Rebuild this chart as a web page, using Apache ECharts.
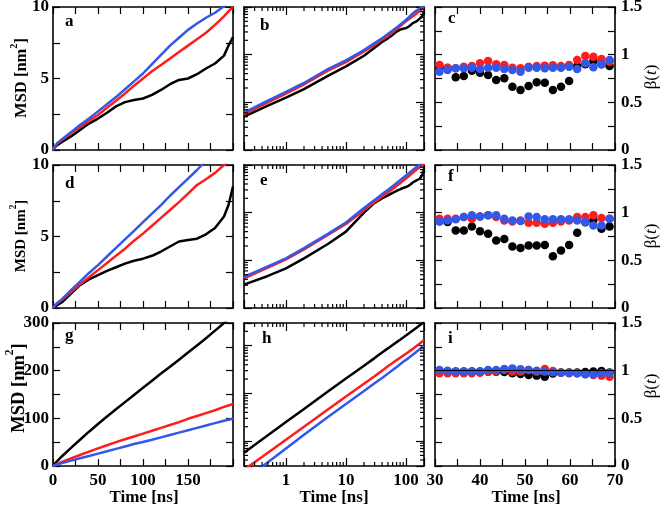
<!DOCTYPE html>
<html><head><meta charset="utf-8">
<script src="https://cdn.jsdelivr.net/npm/echarts@6/dist/echarts.min.js"></script>
<style>html,body{margin:0;padding:0;background:#fff}#c{width:661px;height:508px}</style>
</head><body><div id="c"></div>
<script>
// ---------- DATA ----------
const timeNs = [0.2, 0.5, 1, 2, 5, 10, 20, 30, 40, 50, 60, 70, 80, 90, 100, 110, 120, 130, 140, 150, 160, 170, 180, 190, 195, 200];
// row 1 (panels a, b)
const msdBlackA = [0.050, 0.085, 0.125, 0.19, 0.36, 0.57, 0.95, 1.4, 1.85, 2.2, 2.6, 3.05, 3.35, 3.5, 3.6, 3.85, 4.2, 4.6, 4.9, 5.0, 5.3, 5.7, 6.05, 6.6, 7.3, 7.9];
const msdRedA   = [0.056, 0.10, 0.152, 0.237, 0.46, 0.70, 1.17, 1.6, 2.05, 2.45, 2.95, 3.45, 3.95, 4.5, 5.0, 5.5, 5.95, 6.4, 6.85, 7.3, 7.75, 8.2, 8.75, 9.35, 9.7, 10.0];
const msdBlueA  = [0.061, 0.108, 0.165, 0.255, 0.50, 0.76, 1.25, 1.75, 2.2, 2.7, 3.2, 3.7, 4.25, 4.8, 5.35, 6.0, 6.65, 7.3, 7.85, 8.4, 8.85, 9.25, 9.6, 10.05, 10.35, 10.6];
// row 2 (panels d, e)
const msdBlackD = [0.031, 0.047, 0.068, 0.11, 0.22, 0.40, 1.0, 1.6, 2.0, 2.3, 2.6, 2.85, 3.1, 3.3, 3.45, 3.65, 3.95, 4.3, 4.65, 4.75, 4.85, 5.15, 5.6, 6.4, 7.2, 8.5];
const msdRedD   = [0.042, 0.07, 0.105, 0.17, 0.34, 0.58, 1.12, 1.65, 2.15, 2.65, 3.15, 3.65, 4.15, 4.7, 5.2, 5.75, 6.3, 6.85, 7.4, 8.0, 8.6, 9.0, 9.45, 10.0, 10.3, 10.6];
const msdBlueD  = [0.045, 0.075, 0.11, 0.18, 0.36, 0.62, 1.25, 1.85, 2.45, 3.0, 3.6, 4.2, 4.8, 5.4, 6.0, 6.6, 7.2, 7.85, 8.45, 9.05, 9.65, 10.3, 10.9, 11.5, 11.8, 12.1];
// row 3 (panels g, h)
const msdBlackG = [0.57, 1.33, 2.5, 4.7, 11, 20.5, 38, 55, 72, 88, 104, 119, 134, 149, 164, 179, 194, 208, 223, 238, 253, 268, 284, 300, 308, 316];
const msdRedG   = [0.25, 0.57, 1.07, 2.0, 4.6, 8.6, 16, 23, 30, 37, 43.5, 50, 56, 62, 68, 74, 80, 86, 92, 99, 105, 111, 117, 124, 127, 130];
const msdBlueG  = [0.15, 0.36, 0.70, 1.35, 3.2, 6.0, 11.2, 16.3, 21, 26, 31, 36, 41, 46, 50.5, 55, 60, 65, 70, 75, 80, 85, 90, 95, 97, 99];
// beta panels (c, f, i)
const betaTime = [31, 32.8, 34.6, 36.4, 38.2, 40, 41.8, 43.6, 45.4, 47.2, 49, 50.8, 52.6, 54.4, 56.2, 58, 59.8, 61.6, 63.4, 65.2, 67, 68.8];
const betaBlackC = [0.87, 0.86, 0.762, 0.776, 0.832, 0.811, 0.787, 0.734, 0.752, 0.664, 0.629, 0.671, 0.710, 0.706, 0.629, 0.664, 0.724, 0.88, 0.90, 0.934, 0.90, 0.881];
const betaRedC   = [0.892, 0.864, 0.857, 0.874, 0.881, 0.909, 0.934, 0.899, 0.892, 0.864, 0.857, 0.874, 0.881, 0.885, 0.888, 0.881, 0.892, 0.944, 0.986, 0.979, 0.955, 0.927];
const betaBlueC  = [0.822, 0.839, 0.857, 0.857, 0.864, 0.850, 0.864, 0.864, 0.850, 0.839, 0.822, 0.864, 0.864, 0.857, 0.864, 0.864, 0.874, 0.850, 0.909, 0.867, 0.899, 0.944];
const betaBlackF = [0.91, 0.901, 0.813, 0.813, 0.856, 0.806, 0.778, 0.708, 0.725, 0.644, 0.630, 0.655, 0.655, 0.662, 0.542, 0.602, 0.662, 0.789, 0.90, 0.92, 0.831, 0.856];
const betaRedF   = [0.937, 0.937, 0.937, 0.954, 0.937, 0.961, 0.972, 0.954, 0.919, 0.908, 0.919, 0.894, 0.894, 0.884, 0.894, 0.908, 0.919, 0.954, 0.954, 0.972, 0.944, 0.937];
const betaBlueF  = [0.908, 0.919, 0.930, 0.954, 0.972, 0.961, 0.972, 0.972, 0.937, 0.919, 0.912, 0.961, 0.954, 0.930, 0.930, 0.930, 0.930, 0.919, 0.901, 0.866, 0.866, 0.937];
const betaBlackI = [1.0, 0.99, 0.99, 0.99, 0.99, 0.99, 0.99, 0.99, 0.985, 0.972, 0.965, 0.955, 0.948, 0.937, 0.97, 0.98, 0.98, 0.98, 0.985, 0.99, 0.997, 0.98];
const betaRedI   = [0.972, 0.972, 0.972, 0.972, 0.972, 0.979, 0.990, 0.997, 1.007, 0.990, 0.990, 1.007, 0.990, 1.017, 0.997, 0.979, 0.972, 0.972, 0.965, 0.955, 0.948, 0.937];
const betaBlueI  = [1.007, 1.000, 0.990, 0.990, 0.990, 0.990, 1.007, 1.007, 1.017, 1.024, 1.014, 1.007, 1.000, 0.990, 0.983, 0.979, 0.979, 0.972, 0.962, 0.962, 0.972, 0.979];
// tick labels
const xLinLabels = [0, 50, 100, 150];
const xLogLabels = [1, 10, 100];
const xBetaLabels = [30, 40, 50, 60, 70];
const yMsdLabelsSmall = [0, 5, 10];
const yMsdLabelsLarge = [0, 100, 200, 300];
const yBetaLabels = [0, 0.5, 1, 1.5];
const panelLetters = ['a', 'b', 'c', 'd', 'e', 'f', 'g', 'h', 'i'];

// ---------- CHART ----------
const FONT = 'Liberation Serif';
const BLACK = '#000000', RED = '#ff1c1c', BLUE = '#3158e8';
const colLeft = [53, 244, 435], rowTop = [7, 165, 323], W = 180, H = 143;

const rows = [
  { blk: msdBlackA, red: msdRedA, blu: msdBlueA, linMax: 10, linInt: 2.5, linLabels: yMsdLabelsSmall, logMin: 0.01, logMax: 10,
    bBlk: betaBlackC, bRed: betaRedC, bBlu: betaBlueC },
  { blk: msdBlackD, red: msdRedD, blu: msdBlueD, linMax: 10, linInt: 2.5, linLabels: yMsdLabelsSmall, logMin: 0.01, logMax: 10,
    bBlk: betaBlackF, bRed: betaRedF, bBlu: betaBlueF },
  { blk: msdBlackG, red: msdRedG, blu: msdBlueG, linMax: 300, linInt: 50, linLabels: yMsdLabelsLarge, logMin: 0.3, logMax: 300,
    bBlk: betaBlackI, bRed: betaRedI, bBlu: betaBlueI }
];

function fmtIn(list, log) {
  return function (v) {
    for (const l of list) {
      if (log ? Math.abs(v / l - 1) < 1e-6 : Math.abs(v - l) < 1e-9) return String(l);
    }
    return '';
  };
}
function lab(show, fmt, margin) {
  return { show: show, formatter: fmt, margin: margin, fontFamily: FONT, fontWeight: 'bold', fontSize: 17, color: '#000',
    showMinLabel: true, showMaxLabel: true, hideOverlap: false };
}
const frame = { show: true, onZero: false, lineStyle: { color: '#000', width: 1.6 } };
const tick = len => ({ show: true, inside: true, length: len, lineStyle: { color: '#000', width: 1.2 } });

function logMinors(lo, hi) {
  const out = [];
  for (let e = -3; e <= 3; e++) for (let m = 2; m <= 9; m++) {
    const v = m * Math.pow(10, e);
    if (v > lo * 1.0001 && v < hi * 0.9999) out.push(v);
  }
  return out;
}

const option = { animation: false, backgroundColor: '#fff', grid: [], xAxis: [], yAxis: [], series: [], graphic: [] };

rows.forEach((R, r) => {
  const bottom = r === 2;
  for (let c = 0; c < 3; c++) {
    const gi = r * 3 + c;
    option.grid.push({ left: colLeft[c], top: rowTop[r], width: W, height: H, containLabel: false, outerBoundsMode: 'none', show: false });
    let xBase, yBase, xFmt = null, yFmt = null, xLen = 7, yLen = 7;
    if (c === 0) {
      xBase = { type: 'value', min: 0, max: 200, interval: 25 };
      yBase = { type: 'value', min: 0, max: R.linMax, interval: R.linInt };
      xFmt = fmtIn(xLinLabels, false); yFmt = fmtIn(R.linLabels, false);
    } else if (c === 1) {
      xBase = { type: 'log', logBase: 10, min: 0.2, max: 200 };
      yBase = { type: 'log', logBase: 10, min: R.logMin, max: R.logMax };
      xFmt = fmtIn(xLogLabels, true); xLen = 8; yLen = 8;
    } else {
      xBase = { type: 'value', min: 30, max: 70, interval: 5 };
      yBase = { type: 'value', min: 0, max: 1.5, interval: 0.25 };
      xFmt = fmtIn(xBetaLabels, false); yFmt = fmtIn(yBetaLabels, false);
    }
    const common = { gridIndex: gi, splitLine: { show: false }, minorTick: { show: false }, axisLine: frame, silent: true };
    option.xAxis.push(Object.assign({}, xBase, common, { position: 'bottom', axisTick: tick(xLen), axisLabel: lab(bottom, xFmt, 6) }));
    option.xAxis.push(Object.assign({}, xBase, common, { position: 'top', axisTick: tick(xLen), axisLabel: { show: false } }));
    option.yAxis.push(Object.assign({}, yBase, common, { position: 'left', axisTick: tick(yLen), axisLabel: lab(c === 0, yFmt, 4) }));
    option.yAxis.push(Object.assign({}, yBase, common, { position: 'right', axisTick: tick(yLen), axisLabel: lab(c === 2, yFmt, 6) }));

    const ax = { xAxisIndex: 2 * gi, yAxisIndex: 2 * gi };
    if (c < 2) {
      const mk = (arr, color) => {
        let data = timeNs.map((t, i) => [t, arr[i]]);
        if (c === 0) data = [[0, 0]].concat(data);
        return Object.assign({ type: 'line', data: data, showSymbol: false, symbol: 'none', clip: true, silent: true,
          lineStyle: { color: color, width: 2.5 }, itemStyle: { color: color }, emphasis: { disabled: true } }, ax);
      };
      option.series.push(mk(R.blk, BLACK), mk(R.red, RED), mk(R.blu, BLUE));
      if (c === 1) {
        const xs = logMinors(0.2, 200), ys = logMinors(R.logMin, R.logMax);
        const x0 = 0.2 * 1.001, y0 = R.logMin * 1.001;
        option.series.push(Object.assign({
          type: 'custom', silent: true, z: 10, data: [[x0, y0]],
          renderItem: function (params, api) {
            const cs = params.coordSys, L = 4, st = { stroke: '#000', lineWidth: 1.2 };
            const ch = [];
            xs.forEach(v => {
              const x = api.coord([v, y0])[0];
              ch.push({ type: 'line', shape: { x1: x, y1: cs.y + cs.height, x2: x, y2: cs.y + cs.height - L }, style: st });
              ch.push({ type: 'line', shape: { x1: x, y1: cs.y, x2: x, y2: cs.y + L }, style: st });
            });
            ys.forEach(v => {
              const y = api.coord([x0, v])[1];
              ch.push({ type: 'line', shape: { x1: cs.x, y1: y, x2: cs.x + L, y2: y }, style: st });
              ch.push({ type: 'line', shape: { x1: cs.x + cs.width, y1: y, x2: cs.x + cs.width - L, y2: y }, style: st });
            });
            return { type: 'group', children: ch };
          }
        }, ax));
      }
    } else {
      const sc = (arr, color, extra) => Object.assign({ type: 'scatter', data: betaTime.map((t, i) => [t, arr[i]]), symbol: 'circle',
        symbolSize: 8.5, silent: true, itemStyle: { color: color, opacity: 1 }, emphasis: { disabled: true } }, ax, extra || {});
      const blkExtra = r === 2 ? { markLine: { silent: true, symbol: 'none', label: { show: false },
        lineStyle: { color: '#000', width: 1, type: 'solid' }, data: [{ yAxis: 1 }] } } : {};
      option.series.push(sc(R.bBlk, BLACK, blkExtra), sc(R.bRed, RED), sc(R.bBlu, BLUE));
    }
  }
});

// panel letters
const letterPos = [[65, 22], [260, 26], [448, 19], [65, 184], [260, 181], [448, 177], [65, 336], [262, 339], [448, 339]];
panelLetters.forEach((L, k) => {
  option.graphic.push({ type: 'text', x: letterPos[k][0], y: letterPos[k][1], silent: true,
    style: { text: L, font: 'bold 17px "Liberation Serif"', fill: '#000', align: 'left', verticalAlign: 'middle' } });
});
// MSD axis titles
[[20, 78, 16.5], [18.5, 236, 15], [16.5, 388, 18.5]].forEach(p => {
  const fs = p[2];
  option.graphic.push({ type: 'text', x: p[0], y: p[1], rotation: Math.PI / 2, silent: true,
    style: { text: '{n|MSD [nm}{s|2}{n|]}', align: 'center', verticalAlign: 'middle',
      rich: { n: { fontFamily: FONT, fontWeight: 'bold', fontSize: fs, fill: '#000', lineHeight: fs * 1.3, verticalAlign: 'bottom' },
              s: { fontFamily: FONT, fontWeight: 'bold', fontSize: fs * 0.62, fill: '#000', lineHeight: fs * 1.3, verticalAlign: 'top' } } } });
});
// beta axis titles
[[652, 77], [652, 236], [652, 386]].forEach(p => {
  option.graphic.push({ type: 'text', x: p[0], y: p[1], rotation: Math.PI / 2, silent: true,
    style: { text: '{b|β(}{i|t}{b|)}', align: 'center', verticalAlign: 'middle',
      rich: { b: { fontFamily: FONT, fontSize: 17, fill: '#000' }, i: { fontFamily: FONT, fontStyle: 'italic', fontSize: 17, fill: '#000' } } } });
});
// time axis titles
[[144, 498], [334, 498], [526, 498]].forEach(p => {
  option.graphic.push({ type: 'text', x: p[0], y: p[1], silent: true,
    style: { text: 'Time [ns]', font: 'bold 17px "Liberation Serif"', fill: '#000', align: 'center', verticalAlign: 'middle' } });
});

const chart = echarts.init(document.getElementById('c'), null, { renderer: 'canvas', width: 661, height: 508 });
chart.setOption(option);
</script>
</body></html>
